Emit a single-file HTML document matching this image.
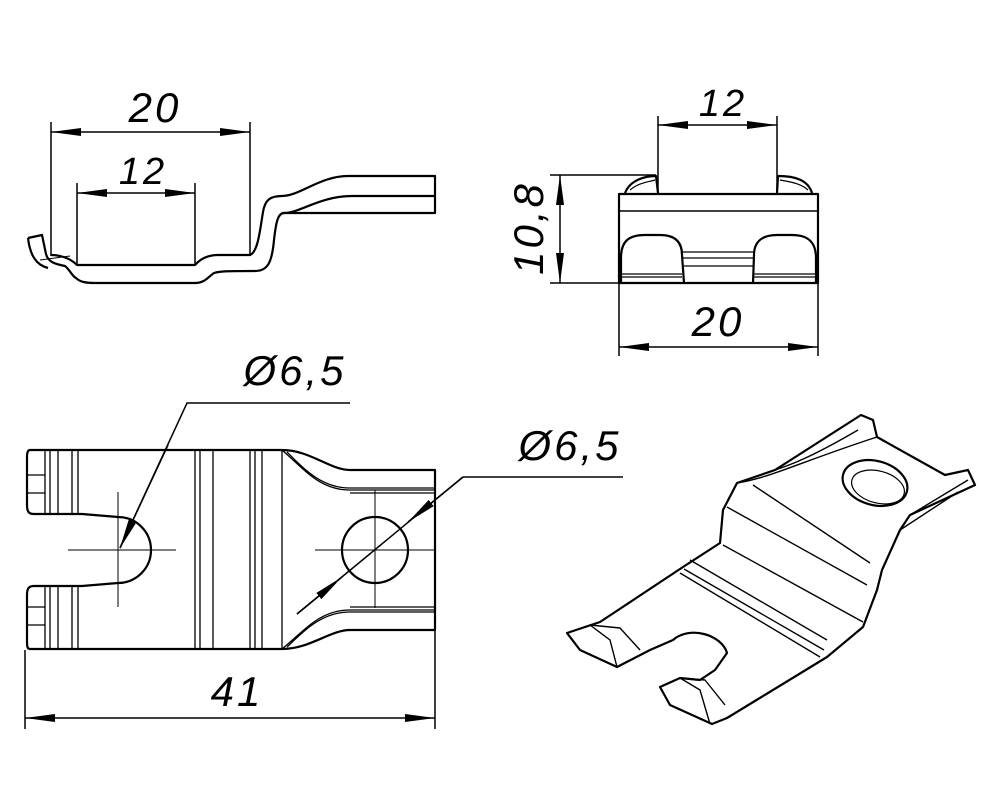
<!DOCTYPE html>
<html><head><meta charset="utf-8"><style>html,body{margin:0;padding:0;background:#fff}svg{display:block}</style></head>
<body>
<svg width="1000" height="800" viewBox="0 0 1000 800" xmlns="http://www.w3.org/2000/svg">
<defs>
<marker id="a" viewBox="0 0 30 10" refX="30" refY="5" markerWidth="30" markerHeight="10" markerUnits="userSpaceOnUse" orient="auto-start-reverse"><path d="M0,1 L30,5 L0,9 Z" fill="#000"/></marker>
</defs>
<g font-family="Liberation Sans, sans-serif" font-style="italic" font-size="42" fill="#000" text-anchor="middle" letter-spacing="3">
<text x="155" y="122">20</text>
<text x="143" y="184" font-size="38">12</text>
<text x="723" y="116" font-size="38">12</text>
<text x="718" y="336">20</text>
<text transform="translate(543,228) rotate(-90)">10,8</text>
<text x="295" y="385">Ø6,5</text>
<text x="570" y="460">Ø6,5</text>
<text x="237" y="706">41</text>
</g>
<g fill="none" stroke="#000" stroke-width="1.5">
<!-- top-left dims -->
<line x1="51" y1="122" x2="51" y2="256"/><line x1="250" y1="122" x2="250" y2="256"/>
<line x1="51" y1="132" x2="250" y2="132" marker-start="url(#a)" marker-end="url(#a)"/>
<line x1="77" y1="183" x2="77" y2="264"/><line x1="195" y1="183" x2="195" y2="264"/>
<line x1="77" y1="193" x2="195" y2="193" marker-start="url(#a)" marker-end="url(#a)"/>
<!-- top-right dims -->
<line x1="658" y1="116" x2="658" y2="194"/><line x1="777" y1="116" x2="777" y2="194"/>
<line x1="658" y1="125" x2="777" y2="125" marker-start="url(#a)" marker-end="url(#a)"/>
<line x1="550" y1="175" x2="656" y2="175"/><line x1="550" y1="283" x2="620" y2="283"/>
<line x1="560" y1="175" x2="560" y2="283" marker-start="url(#a)" marker-end="url(#a)"/>
<line x1="619" y1="283" x2="619" y2="356"/><line x1="818" y1="283" x2="818" y2="356"/>
<line x1="619" y1="347" x2="818" y2="347" marker-start="url(#a)" marker-end="url(#a)"/>
<!-- plan dims -->
<line x1="25" y1="650" x2="25" y2="729"/><line x1="435" y1="630" x2="435" y2="729"/>
<line x1="25" y1="718" x2="435" y2="718" marker-start="url(#a)" marker-end="url(#a)"/>
<polyline points="350,403 187,403 120,548"/>
<line x1="187" y1="403" x2="120" y2="548" marker-end="url(#a)" stroke-width="0"/>
<path d="M168,445 L120,548" marker-end="url(#a)"/>
<polyline points="623,477 463,477"/>
<line x1="463" y1="477" x2="297" y2="614"/>
<line x1="463" y1="477" x2="408" y2="522" marker-end="url(#a)"/>
<line x1="297" y1="614" x2="342" y2="577" marker-end="url(#a)"/>
<!-- centerlines -->
<line x1="68" y1="550" x2="176" y2="550" stroke-width="1"/><line x1="118" y1="492" x2="118" y2="607" stroke-width="1"/>
<line x1="315" y1="550" x2="435" y2="550" stroke-width="1"/><line x1="375" y1="490" x2="375" y2="608" stroke-width="1"/>
</g>
<g fill="none" stroke="#000" stroke-width="2.2" stroke-linejoin="round">
<!-- side profile -->
<path d="M51,255 C60,255 70,258 77,265 L195,265 C202,257 210,255 218,255 L250,255 C258,252 260,230 263,212 C265,200 270,196 282,196 C300,196 320,176 348,176 L435,176 L435,213 L282,213"/>
<path d="M28,238 L42,235 L46,254 C48,262 55,264 65,266 C70,270 72,276 76,278 C80,282 86,283 95,283 L195,283 C205,283 208,277 214,273 C220,271 230,271 255,271 C268,271 272,262 274,240 C276,222 278,213 284,213 C300,213 320,196 352,196 L435,196"/>
<path d="M28,238 C30,255 36,265 48,268"/>
<path d="M40,260 L70,256" stroke-width="1"/>
<!-- front view -->
<rect x="619" y="194" width="199" height="89"/>
<line x1="619" y1="211" x2="818" y2="211" stroke-width="1.5"/>
<path d="M621,283 L621,258 C621,240 630,235 645,235 L660,235 C675,235 682,242 682,255 L684,283"/>
<path d="M753,283 L754,255 C754,242 762,235 777,235 L792,235 C808,235 816,242 816,258 L816,283"/>
<path d="M682,252 L753,252 M682,258 L753,258 M684,266 L753,266" stroke-width="1.3"/>
<path d="M621,274 L682,274 M621,277 L682,277 M754,274 L816,274 M754,277 L816,277" stroke-width="1.2"/>
<path d="M625,193 C630,180 645,176 656,176 L658,193 M812,193 C808,180 795,176 778,176 L777,193"/>
<path d="M630,190 C638,183 648,182 655,180 M808,190 C800,183 790,182 780,180" stroke-width="1.2"/>
<!-- plan view -->
<path d="M30,450 L282,450 C310,450 330,470 350,470 L435,470 L435,630 L350,630 C330,630 310,649 282,649 L30,649 C27,649 27,646 27,640 L27,595 C27,588 29,586 34,586 L82,586 L118,583 A33,33 0 0 0 118,517 L82,514 L34,514 C29,514 27,512 27,505 L27,457 C27,452 28,450 30,450 Z"/>
<circle cx="375" cy="550" r="33"/>
<g stroke-width="1.3">
<path d="M45,450 L45,514 M50,450 L50,514 M58,450 L58,514 M72,450 L72,514 M78,450 L78,514"/>
<path d="M45,586 L45,649 M50,586 L50,649 M58,586 L58,649 M72,586 L72,649 M78,586 L78,649"/>
<path d="M28,475 L45,475 M28,493 L45,493 M28,607 L45,607 M28,625 L45,625"/>
<path d="M195,450 L195,649 M200,450 L200,649 M213,450 L213,649 M250,450 L250,649 M255,450 L255,649 M262,450 L262,649 M282,450 L282,649"/>
<path d="M282,450 C305,470 320,490 350,490 L435,490 M287,452 C305,470 322,488 350,488 L435,488 M350,493 L435,493"/>
<path d="M282,649 C305,630 320,610 350,610 L435,610 M287,647 C305,630 322,612 350,612 L435,612 M350,607 L435,607"/>
</g>
<!-- isometric -->
<path d="M567,633 L600,622 L683,567 L720,543 L723,510 L737,483 L775,470 L861,415 L873,420 L877,437 L945,475 L968,470 L975,485 L910,515 L900,530 L882,570 L877,590 L863,627 L827,657 L727,718 L712,724 L670,705 L660,687 L680,678 L700,680 L715,670 L727,653 C722,635 690,625 673,640 L650,650 L617,667 L580,650 Z"/>
<ellipse cx="875" cy="483" rx="33" ry="22" transform="rotate(15 875 483)"/>
<ellipse cx="878" cy="487" rx="27" ry="16" transform="rotate(15 878 487)" stroke-width="1.2"/>
<g stroke-width="1.4">
<path d="M727,507 L867,585 M723,545 L863,622 M690,560 L827,640 M680,573 L820,657 M753,485 L870,563 M684,569 L824,650"/>
<path d="M737,483 C770,478 800,462 877,437 M775,470 C790,465 810,458 858,430"/>
<path d="M900,530 L958,492 M910,515 L968,480"/>
<path d="M567,633 L590,625 L610,640 L617,667 M590,625 L620,628 L640,650"/>
<path d="M660,687 L680,678 L700,690 L710,724 M680,678 L705,680 L725,705"/>
</g>
</g>
</svg>
</body></html>
